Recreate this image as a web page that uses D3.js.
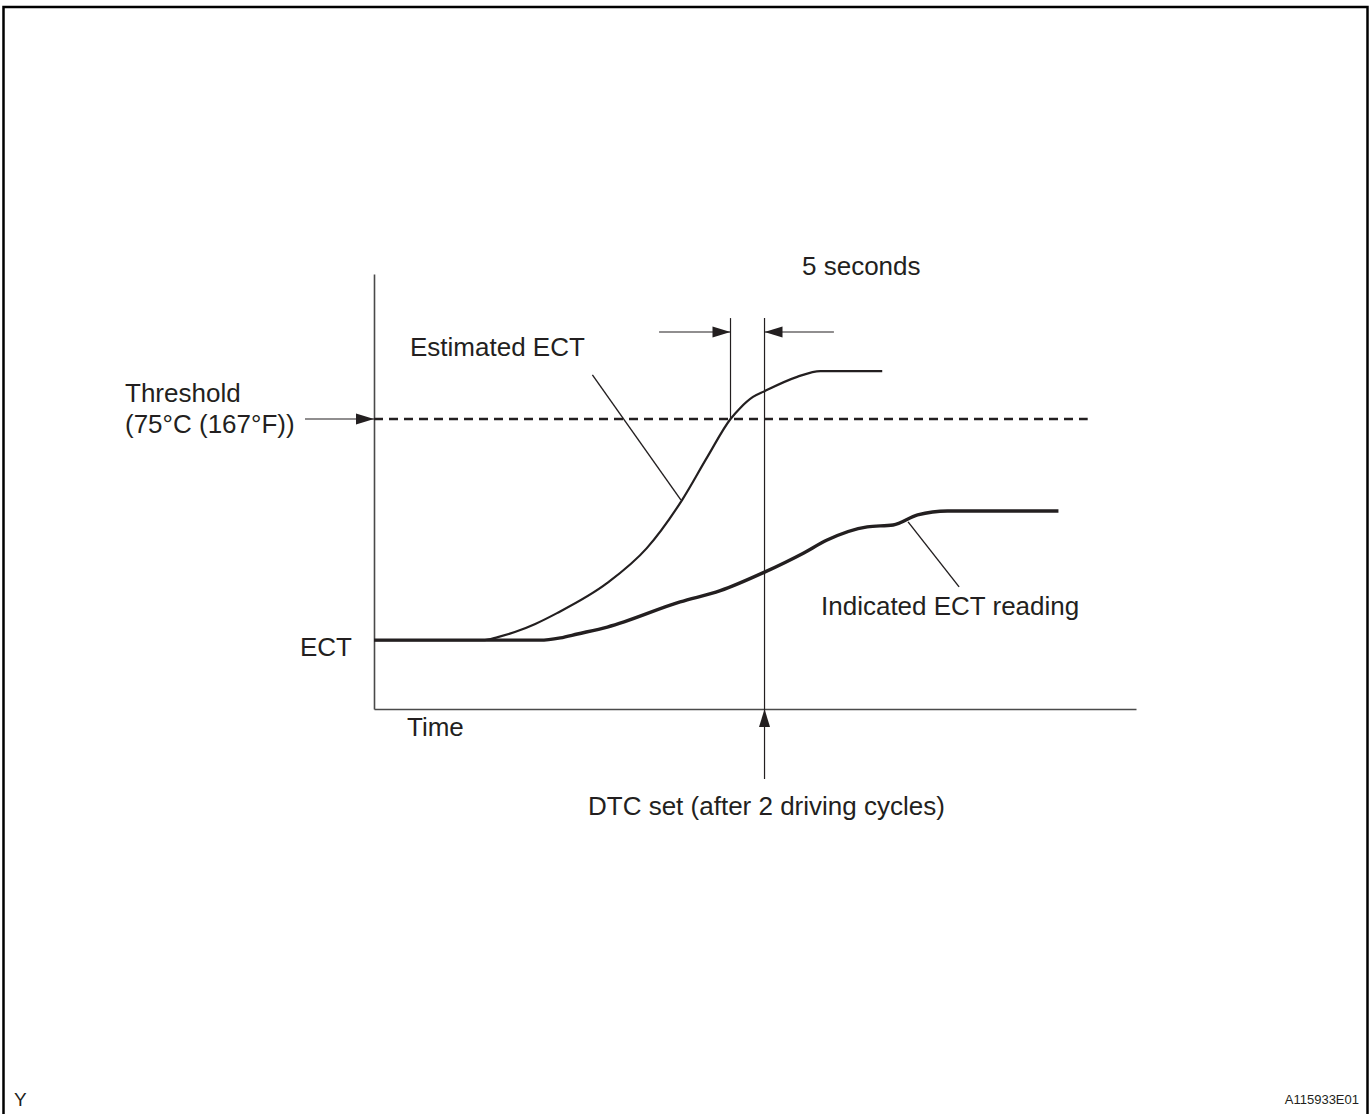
<!DOCTYPE html>
<html>
<head>
<meta charset="utf-8">
<script src="https://cdn.jsdelivr.net/npm/d3@7"></script>
<style>
	body { margin: 0; background: #fff; }
	text { font-family: "Liberation Sans", Arial, Helvetica, sans-serif; fill: #231f20; }
</style>
</head>
<body>
<div id="chart"></div>
<script>
// time in seconds, temperature in deg C
var estTime  = [0, 16.0, 18.2, 20.7, 23.7, 26.9, 34.3, 40.1, 45.3, 49.0, 52.4, 53.8, 55.7, 57.4, 62.2, 65.6, 74.7];
var estTemp  = [17.8, 17.8, 18.6, 19.9, 22.0, 24.8, 32.6, 41.6, 54.1, 65.2, 75.0, 77.8, 80.7, 82.2, 85.9, 87.4, 87.4];
var indTime  = [0, 24.4, 27.4, 29.9, 34.3, 45.0, 50.9, 57.4, 63.1, 66.6, 72.5, 76.3, 79.9, 84.3, 100.6];
var indTemp  = [17.8, 17.8, 18.4, 19.4, 21.2, 27.7, 30.6, 35.4, 40.3, 43.7, 47.1, 47.6, 50.2, 51.2, 51.2];
var threshold = 75;          // deg C
var thresholdEnd = 104.9;    // where the dashed line stops
var tCross = 52.4;           // estimated crosses the threshold
var tSet = 57.4;             // 5 seconds later, DTC set
var xMax = 112, yMax = 112.5;

function init() {
	//Dimensions
	var W = 1369, H = 1114;
	var left = 374, right = 1136, top = 274, bottom = 709;

	var svg = d3.select("#chart")
				.append("svg")
				.attr("width", W)
				.attr("height", H);

	//outer frame
	svg.append("rect")
		.attr("x", 3.5).attr("y", 7)
		.attr("width", 1364).attr("height", 1120)
		.attr("fill", "none")
		.attr("stroke", "#000")
		.attr("stroke-width", 2.5);

	var x = d3.scaleLinear().domain([0, xMax]).range([left, right]);
	var y = d3.scaleLinear().domain([0, yMax]).range([bottom, top]);

	//axes without ticks
	svg.append("g")
		.attr("transform", "translate(0," + bottom + ")")
		.call(d3.axisBottom(x).tickValues([]).tickSizeOuter(0))
		.select(".domain").attr("stroke", "#4a4a4a").attr("stroke-width", 1.6);
	svg.append("g")
		.attr("transform", "translate(" + left + ",0)")
		.call(d3.axisLeft(y).tickValues([]).tickSizeOuter(0))
		.select(".domain").attr("stroke", "#4a4a4a").attr("stroke-width", 1.6);

	var ink = "#231f20";

	function arrowHead(tx, ty, dir) {	//dir: "right", "left", "up"
		var L = 18, w = 5.5, pts;
		if (dir == "right") pts = [[tx, ty], [tx - L, ty - w], [tx - L, ty + w]];
		if (dir == "left") pts = [[tx, ty], [tx + L, ty - w], [tx + L, ty + w]];
		if (dir == "up") pts = [[tx, ty], [tx - w, ty + L], [tx + w, ty + L]];
		svg.append("polygon")
			.attr("points", pts.map(function(p) { return p.join(","); }).join(" "))
			.attr("fill", ink);
	}
	function seg(x1, y1, x2, y2, sw) {
		svg.append("line")
			.attr("x1", x1).attr("y1", y1)
			.attr("x2", x2).attr("y2", y2)
			.attr("stroke", ink)
			.attr("stroke-width", sw);
	}

	//threshold dashed line
	svg.append("line")
		.attr("x1", x(0)).attr("y1", y(threshold))
		.attr("x2", x(thresholdEnd)).attr("y2", y(threshold))
		.attr("stroke", ink)
		.attr("stroke-width", 2.6)
		.attr("stroke-dasharray", "9,6");

	//vertical markers
	seg(x(tCross), y(101.1), x(tCross), y(threshold), 1.2);
	seg(x(tSet), y(101.1), x(tSet), y(-18.1), 1.2);
	arrowHead(x(tSet), y(0), "up");

	//5 seconds dimension
	var dimY = y(97.5);
	seg(x(41.9), dimY, x(tCross), dimY, 1.2);
	arrowHead(x(tCross), dimY, "right");
	seg(x(tSet), dimY, x(67.6), dimY, 1.2);
	arrowHead(x(tSet), dimY, "left");

	//threshold arrow
	seg(305, y(threshold), x(0), y(threshold), 1.2);
	arrowHead(x(0), y(threshold), "right");

	var line = d3.line()
		.x(function(d) { return x(d[0]); })
		.y(function(d) { return y(d[1]); })
		.curve(d3.curveMonotoneX);

	var estData = d3.zip(estTime, estTemp);
	var indData = d3.zip(indTime, indTemp);

	svg.append("path")
		.datum(estData)
		.attr("d", line)
		.attr("fill", "none")
		.attr("stroke", ink)
		.attr("stroke-width", 2.2);
	svg.append("path")
		.datum(indData)
		.attr("d", line)
		.attr("fill", "none")
		.attr("stroke", ink)
		.attr("stroke-width", 3.4);

	//leader lines
	seg(x(32.1), y(86.4), x(45.1), y(54.1), 1.4);
	seg(x(78.5), y(48.4), x(86.0), y(31.6), 1.4);

	//labels
	var labels = [
		["5 seconds", 802, 275],
		["Estimated ECT", 410, 356],
		["Threshold", 125, 402],
		["(75°C (167°F))", 125, 433],
		["ECT", 300, 656],
		["Time", 407, 736],
		["Indicated ECT reading", 821, 615],
		["DTC set (after 2 driving cycles)", 588, 815]
	];
	svg.selectAll("text.lbl")
		.data(labels)
		.enter()
		.append("text")
		.attr("class", "lbl")
		.attr("x", function(d) { return d[1]; })
		.attr("y", function(d) { return d[2]; })
		.style("font-size", "26px")
		.text(function(d) { return d[0]; });

	svg.append("text")
		.attr("x", 14).attr("y", 1106)
		.style("font-size", "19px")
		.text("Y");
	svg.append("text")
		.attr("x", 1359).attr("y", 1104)
		.attr("text-anchor", "end")
		.style("font-size", "13px")
		.text("A115933E01");
}
window.onload = init;
</script>
</body>
</html>
